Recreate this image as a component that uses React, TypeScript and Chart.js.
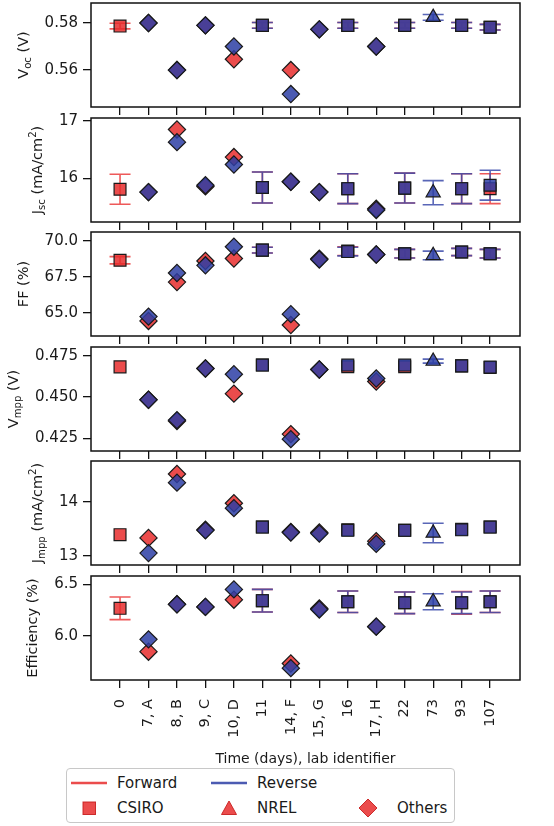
import React, { useEffect, useRef } from "react";
import { Chart, registerables } from "chart.js";
Chart.register(...registerables);

// ---------- data ----------
const categories = ["0", "7, A", "8, B", "9, C", "10, D", "11", "14, F", "15, G", "16", "17, H", "22", "73", "93", "107"];
const labs = ["CSIRO", "Others", "Others", "Others", "Others", "CSIRO", "Others", "Others", "CSIRO", "Others", "CSIRO", "NREL", "CSIRO", "CSIRO"];

const vocForward = [0.5787, 0.58, 0.56, 0.579, 0.5646, 0.579, 0.56, 0.5773, 0.579, 0.57, 0.579, null, 0.579, 0.5782];
const vocReverse = [null, 0.58, 0.56, 0.579, 0.57, 0.579, 0.5498, 0.5773, 0.579, 0.57, 0.579, 0.5824, 0.579, 0.5782];
const vocForwardErr = [0.0012, null, null, null, null, 0.0012, null, null, 0.0012, null, 0.0012, null, 0.0012, 0.0012];
const vocReverseErr = [null, null, null, null, null, 0.0012, null, null, 0.0012, null, 0.0012, 0.0012, 0.0012, 0.0012];

const jscForward = [15.81, 15.76, 16.85, 15.86, 16.37, 15.84, 15.94, 15.76, 15.82, 15.47, 15.83, null, 15.82, 15.82];
const jscReverse = [null, 15.76, 16.63, 15.88, 16.24, 15.84, 15.94, 15.76, 15.82, 15.45, 15.83, 15.75, 15.82, 15.88];
const jscForwardErr = [0.26, null, null, null, null, 0.27, null, null, 0.26, null, 0.26, null, 0.26, 0.26];
const jscReverseErr = [null, null, null, null, null, 0.27, null, null, 0.26, null, 0.26, 0.21, 0.26, 0.26];

const ffForward = [68.65, 64.46, 67.14, 68.6, 68.77, 69.35, 64.18, 68.75, 69.28, 69.05, 69.1, null, 69.22, 69.1];
const ffReverse = [null, 64.76, 67.77, 68.3, 69.58, 69.35, 64.93, 68.7, 69.25, 69.05, 69.1, 68.98, 69.22, 69.1];
const ffForwardErr = [0.25, null, null, null, null, 0.2, null, null, 0.3, null, 0.3, null, 0.25, 0.3];
const ffReverseErr = [null, null, null, null, null, 0.2, null, null, 0.3, null, 0.3, 0.3, 0.25, 0.3];

const vmppForward = [0.4684, 0.4484, 0.4355, 0.4674, 0.4521, 0.4695, 0.4275, 0.4668, 0.4685, 0.4595, 0.4685, null, 0.469, 0.468];
const vmppReverse = [null, 0.4484, 0.436, 0.4674, 0.4639, 0.4695, 0.4244, 0.4668, 0.4695, 0.4613, 0.4695, 0.4719, 0.469, 0.4683];
const vmppForwardErr = [null, null, null, null, null, null, null, null, null, null, null, null, null, null];
const vmppReverseErr = [null, null, null, null, null, null, null, null, null, null, null, 0.0012, null, null];

const jmppForward = [13.39, 13.33, 14.51, 13.48, 13.97, 13.53, 13.44, 13.43, 13.48, 13.27, 13.47, null, 13.49, 13.53];
const jmppReverse = [null, 13.05, 14.35, 13.47, 13.88, 13.53, 13.43, 13.41, 13.47, 13.22, 13.47, 13.42, 13.48, 13.53];
const jmppForwardErr = [null, null, null, null, null, null, null, null, null, null, null, null, null, null];
const jmppReverseErr = [null, null, null, null, null, null, null, null, null, null, null, 0.18, null, null];

const effForward = [6.266, 5.845, 6.305, 6.28, 6.35, 6.34, 5.73, 6.265, 6.33, 6.088, 6.32, null, 6.32, 6.33];
const effReverse = [null, 5.965, 6.305, 6.28, 6.45, 6.34, 5.685, 6.255, 6.33, 6.088, 6.32, 6.33, 6.32, 6.33];
const effForwardErr = [0.11, null, null, null, null, 0.11, null, null, 0.105, null, 0.105, null, 0.11, 0.105];
const effReverseErr = [null, null, null, null, null, 0.11, null, null, 0.105, null, 0.105, 0.078, 0.105, 0.105];

const vocTicks = [0.56, 0.58];
const jscTicks = [16, 17];
const ffTicks = [65.0, 67.5, 70.0];
const vmppTicks = [0.425, 0.45, 0.475];
const jmppTicks = [13, 14];
const effTicks = [6.0, 6.5];

const xTitle = "Time (days), lab identifier";

// ---------- styles ----------
const FONT = "'DejaVu Sans', sans-serif";
const TEXT = "#1a1a1a";
const RED = "rgba(232,45,45,0.85)";
const BLUE = "rgba(45,62,165,0.85)";
const RED_LINE = "rgba(235,60,60,0.85)";
const BLUE_LINE = "rgba(60,75,170,0.85)";
const EDGE = "#1a1a1a";
const STYLE: Record<string, string> = { CSIRO: "rect", NREL: "triangle", Others: "rectRot" };
const RADIUS: Record<string, number> = { CSIRO: 8.4, NREL: 8.2, Others: 8.6 };

const W = 554;
const PANEL_TOPS = [3, 117.5, 232, 346.5, 461, 576];
const PANEL_H = 104;
const PAD_TOP = 16;
const X_AXIS_UPPER = 8;
const PAD_BOTTOM_UPPER = 8;
const X_AXIS_LAST = 88;
const Y_AXIS_W = 91;
const PAD_RIGHT = 34;
const TICK_LEN = 8;
const TICK_PAD = 5;
const CAP = 10.5;

type Part = [string, string?];
interface Cfg {
  title: Part[];
  fwd: (number | null)[];
  rev: (number | null)[];
  fwdErr: (number | null)[];
  revErr: (number | null)[];
  min: number;
  max: number;
  ticks: number[];
  dec: number;
}

const panels: Cfg[] = [
  { title: [["V"], ["oc", "sub"], [" (V)"]], fwd: vocForward, rev: vocReverse, fwdErr: vocForwardErr, revErr: vocReverseErr, min: 0.5443, max: 0.5885, ticks: vocTicks, dec: 2 },
  { title: [["J"], ["sc", "sub"], [" (mA/cm"], ["2", "sup"], [")"]], fwd: jscForward, rev: jscReverse, fwdErr: jscForwardErr, revErr: jscReverseErr, min: 15.24, max: 17.05, ticks: jscTicks, dec: 0 },
  { title: [["FF (%)"]], fwd: ffForward, rev: ffReverse, fwdErr: ffForwardErr, revErr: ffReverseErr, min: 63.42, max: 70.6, ticks: ffTicks, dec: 1 },
  { title: [["V"], ["mpp", "sub"], [" (V)"]], fwd: vmppForward, rev: vmppReverse, fwdErr: vmppForwardErr, revErr: vmppReverseErr, min: 0.4172, max: 0.4805, ticks: vmppTicks, dec: 3 },
  { title: [["J"], ["mpp", "sub"], [" (mA/cm"], ["2", "sup"], [")"]], fwd: jmppForward, rev: jmppReverse, fwdErr: jmppForwardErr, revErr: jmppReverseErr, min: 12.83, max: 14.75, ticks: jmppTicks, dec: 0 },
  { title: [["Efficiency (%)"]], fwd: effForward, rev: effReverse, fwdErr: effForwardErr, revErr: effReverseErr, min: 5.57, max: 6.58, ticks: effTicks, dec: 1 },
];

function toPoints(vals: (number | null)[]) {
  const pts: { x: number; y: number }[] = [];
  vals.forEach((v, i) => {
    if (v != null) pts.push({ x: i, y: v });
  });
  return pts;
}

function Panel({ cfg, index }: { cfg: Cfg; index: number }) {
  const ref = useRef<HTMLCanvasElement>(null);
  const isLast = index === panels.length - 1;
  const canvasH = isLast ? PAD_TOP + PANEL_H + X_AXIS_LAST : PAD_TOP + PANEL_H + X_AXIS_UPPER + PAD_BOTTOM_UPPER;
  const top = PANEL_TOPS[index] - PAD_TOP;

  useEffect(() => {
    const fwdPts = toPoints(cfg.fwd);
    const revPts = toPoints(cfg.rev);
    const tickFontSize = 15;

    const boxPlugin = {
      id: "box",
      afterDraw(chart: any) {
        const { ctx, chartArea: a } = chart;
        ctx.save();
        ctx.strokeStyle = "#111";
        ctx.lineWidth = 1.5;
        ctx.strokeRect(a.left, a.top, a.right - a.left, a.bottom - a.top);
        ctx.restore();
      },
    };

    const errPlugin = {
      id: "errbars",
      beforeDatasetsDraw(chart: any) {
        const { ctx, scales } = chart;
        const xs = scales.x, ys = scales.y;
        const draw = (vals: (number | null)[], errs: (number | null)[], color: string) => {
          ctx.save();
          ctx.strokeStyle = color;
          ctx.lineWidth = 1.6;
          vals.forEach((v, i) => {
            const e = errs[i];
            if (v == null || e == null) return;
            const px = xs.getPixelForValue(i);
            const y1 = ys.getPixelForValue(v - e);
            const y2 = ys.getPixelForValue(v + e);
            ctx.beginPath();
            ctx.moveTo(px, y1);
            ctx.lineTo(px, y2);
            ctx.moveTo(px - CAP, y1);
            ctx.lineTo(px + CAP, y1);
            ctx.moveTo(px - CAP, y2);
            ctx.lineTo(px + CAP, y2);
            ctx.stroke();
          });
          ctx.restore();
        };
        draw(cfg.fwd, cfg.fwdErr, RED_LINE);
        draw(cfg.rev, cfg.revErr, BLUE_LINE);
      },
    };

    const titlePlugin = {
      id: "ytitle",
      afterDraw(chart: any) {
        const { ctx, chartArea: a } = chart;
        const ys = chart.scales.y;
        ctx.save();
        ctx.font = `${tickFontSize}px ${FONT}`;
        let maxW = 0;
        ys.ticks.forEach((t: any) => {
          maxW = Math.max(maxW, ctx.measureText(String(t.label)).width);
        });
        const labelLeft = a.left - TICK_LEN - TICK_PAD - maxW;
        const baseX = labelLeft - 17;
        const fs = 14.5;
        const subFs = fs * 0.7;
        const fontFor = (k?: string) => `${k ? subFs : fs}px ${FONT}`;
        let total = 0;
        cfg.title.forEach(([t, k]) => {
          ctx.font = fontFor(k);
          total += ctx.measureText(t).width;
        });
        const cy = (a.top + a.bottom) / 2;
        ctx.translate(baseX, cy);
        ctx.rotate(-Math.PI / 2);
        ctx.fillStyle = TEXT;
        ctx.textBaseline = "alphabetic";
        ctx.textAlign = "left";
        let x = -total / 2;
        cfg.title.forEach(([t, k]) => {
          ctx.font = fontFor(k);
          const dy = k === "sub" ? fs * 0.22 : k === "sup" ? -fs * 0.38 : 0;
          ctx.fillText(t, x, dy);
          x += ctx.measureText(t).width;
        });
        ctx.restore();
      },
    };

    const common = {
      borderColor: EDGE,
      borderWidth: 1.2,
      clip: false as any,
    };

    const chart = new Chart(ref.current!, {
      type: "scatter",
      data: {
        datasets: [
          {
            label: "Reverse",
            data: revPts,
            order: 1,
            backgroundColor: BLUE,
            pointStyle: revPts.map((p) => STYLE[labs[p.x]]) as any,
            pointRadius: revPts.map((p) => RADIUS[labs[p.x]]),
            ...common,
          },
          {
            label: "Forward",
            data: fwdPts,
            order: 2,
            backgroundColor: RED,
            pointStyle: fwdPts.map((p) => STYLE[labs[p.x]]) as any,
            pointRadius: fwdPts.map((p) => RADIUS[labs[p.x]]),
            ...common,
          },
        ],
      },
      options: {
        animation: false,
        responsive: false,
        events: [],
        layout: {
          padding: { top: PAD_TOP, right: PAD_RIGHT, left: 0, bottom: isLast ? 0 : PAD_BOTTOM_UPPER },
        },
        plugins: { legend: { display: false }, tooltip: { enabled: false } },
        scales: {
          x: {
            type: "linear",
            min: -1.02,
            max: 14.05,
            afterBuildTicks: (s: any) => {
              s.ticks = categories.map((_, i) => ({ value: i }));
            },
            afterFit: (s: any) => {
              s.height = isLast ? X_AXIS_LAST : X_AXIS_UPPER;
            },
            ticks: {
              display: isLast,
              autoSkip: false,
              minRotation: 90,
              maxRotation: 90,
              padding: 11,
              color: TEXT,
              font: { family: FONT, size: 14.5 },
              callback: (v: any) => categories[Math.round(Number(v))] ?? "",
            },
            grid: { drawOnChartArea: false, tickLength: TICK_LEN, color: "#111", lineWidth: 1.3 },
            border: { display: false },
            title: {
              display: isLast,
              text: xTitle,
              color: TEXT,
              font: { family: FONT, size: 14 },
              padding: { top: 0, bottom: 0 },
            },
          },
          y: {
            min: cfg.min,
            max: cfg.max,
            afterBuildTicks: (s: any) => {
              s.ticks = cfg.ticks.map((v) => ({ value: v }));
            },
            afterFit: (s: any) => {
              s.width = Y_AXIS_W;
            },
            ticks: {
              padding: TICK_PAD,
              color: TEXT,
              font: { family: FONT, size: tickFontSize },
              callback: (v: any) => Number(v).toFixed(cfg.dec),
            },
            grid: { drawOnChartArea: false, tickLength: TICK_LEN, color: "#111", lineWidth: 1.3 },
            border: { display: false },
          },
        },
      } as any,
      plugins: [errPlugin, boxPlugin, titlePlugin],
    });
    return () => chart.destroy();
  }, []);

  return (
    <canvas
      ref={ref}
      width={W}
      height={canvasH}
      style={{ position: "absolute", left: 0, top, width: W, height: canvasH }}
    />
  );
}

function Marker({ kind }: { kind: string }) {
  const fill = RED;
  const stroke = "rgba(200,30,30,0.9)";
  if (kind === "line") return <svg width={36} height={6}><line x1={0} y1={3} x2={36} y2={3} stroke={fill} strokeWidth={2.6} /></svg>;
  if (kind === "lineb") return <svg width={36} height={6}><line x1={0} y1={3} x2={36} y2={3} stroke={BLUE} strokeWidth={2.6} /></svg>;
  if (kind === "square") return <svg width={16} height={16}><rect x={2} y={2} width={12.5} height={12.5} fill={fill} stroke={stroke} strokeWidth={1} /></svg>;
  if (kind === "triangle") return <svg width={18} height={16}><polygon points="9,1 16.5,14.5 1.5,14.5" fill={fill} stroke={stroke} strokeWidth={1} /></svg>;
  return <svg width={20} height={20}><polygon points="10,1 19,10 10,19 1,10" fill={fill} stroke={stroke} strokeWidth={1} /></svg>;
}

function Legend() {
  const txt: React.CSSProperties = { position: "absolute", fontFamily: FONT, fontSize: 15, color: TEXT, lineHeight: "18px", whiteSpace: "nowrap" };
  const mk = (left: number, cy: number, w: number, h: number, kind: string) => (
    <div style={{ position: "absolute", left: left - w / 2, top: cy - h / 2, width: w, height: h, lineHeight: 0 }}>
      <Marker kind={kind} />
    </div>
  );
  const r1 = 14, r2 = 39;
  return (
    <div style={{ position: "absolute", left: 66, top: 768, width: 389, height: 55, boxSizing: "border-box", border: "1.5px solid #c8c8c8", borderRadius: 4, background: "#fff" }}>
      {mk(21.5, r1, 36, 6, "line")}
      <div style={{ ...txt, left: 50, top: r1 - 9 }}>Forward</div>
      {mk(161.5, r1, 36, 6, "lineb")}
      <div style={{ ...txt, left: 190, top: r1 - 9 }}>Reverse</div>
      {mk(22, r2, 16, 16, "square")}
      <div style={{ ...txt, left: 50, top: r2 - 9 }}>CSIRO</div>
      {mk(162, r2, 18, 16, "triangle")}
      <div style={{ ...txt, left: 190, top: r2 - 9 }}>NREL</div>
      {mk(301, r2, 20, 20, "diamond")}
      <div style={{ ...txt, left: 330, top: r2 - 9 }}>Others</div>
    </div>
  );
}

export default function App() {
  return (
    <div style={{ position: "absolute", left: 0, top: 0, width: W, height: 826, background: "#fff", overflow: "hidden" }}>
      {panels.map((cfg, i) => (
        <Panel key={i} cfg={cfg} index={i} />
      ))}
      <Legend />
    </div>
  );
}
